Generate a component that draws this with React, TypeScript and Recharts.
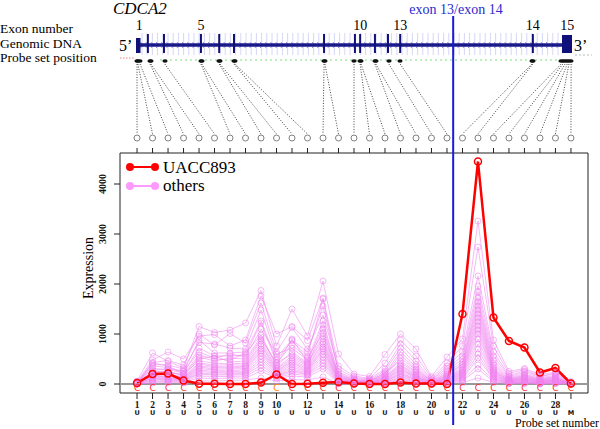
import React from 'react'
import { LineChart, Line, XAxis, YAxis, ReferenceLine, ReferenceArea } from 'recharts'

// probe sets along the x axis
const probes = [1, 2, 3, 4, 5, 6, 7, 8, 9, 10, 11, 12, 13, 14, 15, 16, 17, 18, 19, 20, 21, 22, 23, 24, 25, 26, 27, 28, 29]
const probeLabels = [1, 2, 3, 4, 5, 6, 7, 8, 9, 10, 12, 14, 16, 18, 20, 22, 24, 26, 28]
const lowerCalls = ['U', 'U', 'U', 'U', 'U', 'U', 'U', 'U', 'U', 'U', 'U', 'U', 'U', 'U', 'U', 'U', 'U', 'U', 'U', 'U', 'U', 'U', 'U', 'U', 'U', 'U', 'U', 'U', 'M']
const yTicks = [0, 1000, 2000, 3000, 4000]
const exonBoundary = 21.4

const uacc893 = [20, 200, 210, 70, 5, 5, 0, 0, 30, 190, 0, 5, 25, 40, 10, 0, 0, 30, 10, 10, 0, 1400, 4450, 1330, 860, 730, 230, 320, 10]

const others = [
  [60, 620, 450, 320, 1150, 1030, 1080, 1220, 1870, 760, 1500, 960, 2060, 600, 200, 150, 590, 1000, 700, 150, 540, 900, 3260, 880, 250, 310, 190, 240, 50],
  [40, 480, 640, 500, 960, 990, 760, 880, 1760, 1000, 1150, 870, 1720, 360, 160, 110, 420, 880, 560, 120, 420, 760, 2740, 760, 210, 290, 160, 220, 30],
  [30, 430, 470, 380, 1000, 780, 1010, 820, 1620, 640, 1130, 700, 1380, 300, 130, 100, 300, 800, 460, 90, 360, 640, 2160, 640, 170, 260, 150, 200, 20],
  [20, 390, 380, 300, 830, 800, 720, 700, 1480, 540, 880, 640, 1560, 240, 110, 80, 260, 720, 390, 80, 310, 560, 1960, 560, 150, 230, 130, 170, 10],
  [10, 360, 330, 250, 880, 620, 620, 640, 1260, 480, 860, 560, 1700, 210, 90, 70, 210, 640, 340, 60, 270, 500, 1840, 480, 130, 200, 110, 150, 10],
  [50, 310, 290, 220, 720, 560, 560, 580, 1220, 430, 780, 520, 1020, 190, 80, 60, 190, 580, 300, 50, 230, 440, 1720, 420, 110, 180, 100, 140, 0],
  [30, 280, 300, 260, 640, 520, 600, 540, 1100, 600, 720, 480, 1260, 170, 70, 60, 170, 520, 280, 60, 200, 400, 1640, 380, 100, 170, 90, 130, 20],
  [20, 420, 360, 200, 580, 500, 480, 620, 980, 380, 900, 440, 1180, 160, 60, 50, 230, 460, 250, 40, 180, 380, 1560, 340, 90, 150, 80, 120, 10],
  [0, 260, 240, 180, 540, 460, 520, 500, 940, 360, 640, 420, 960, 140, 60, 40, 150, 420, 230, 40, 160, 340, 1480, 300, 80, 140, 70, 110, 0],
  [10, 240, 260, 160, 500, 560, 440, 460, 900, 420, 600, 400, 900, 120, 50, 40, 140, 380, 200, 30, 150, 300, 1400, 280, 80, 130, 70, 100, 0],
  [40, 220, 220, 200, 460, 420, 400, 420, 860, 320, 560, 380, 1100, 110, 50, 30, 130, 360, 180, 30, 140, 280, 1320, 260, 70, 120, 60, 90, 10],
  [20, 200, 200, 140, 420, 380, 380, 380, 800, 300, 520, 360, 840, 100, 40, 30, 110, 330, 160, 20, 120, 260, 1240, 240, 60, 110, 50, 80, 0],
  [0, 180, 190, 130, 400, 350, 340, 360, 760, 280, 480, 330, 800, 90, 40, 30, 100, 300, 150, 20, 110, 240, 1160, 220, 60, 100, 50, 80, 0],
  [10, 170, 160, 120, 360, 330, 320, 340, 700, 260, 450, 300, 740, 80, 30, 20, 90, 280, 140, 20, 100, 220, 1080, 200, 50, 90, 40, 70, 0],
  [30, 150, 150, 110, 340, 300, 300, 310, 660, 240, 420, 280, 700, 70, 30, 20, 80, 250, 130, 10, 90, 200, 1000, 180, 50, 80, 40, 60, 0],
  [0, 140, 130, 100, 310, 280, 260, 290, 620, 220, 380, 260, 660, 60, 20, 20, 70, 220, 110, 10, 80, 180, 900, 160, 40, 70, 30, 50, 0],
  [10, 120, 120, 90, 280, 250, 240, 260, 560, 200, 340, 240, 600, 50, 20, 10, 60, 200, 100, 10, 70, 160, 800, 140, 40, 60, 30, 50, 0],
  [0, 110, 100, 80, 250, 230, 220, 230, 500, 180, 300, 220, 540, 40, 10, 10, 50, 180, 90, 10, 60, 140, 700, 120, 30, 50, 20, 40, 0],
  [20, 100, 90, 70, 220, 200, 200, 210, 440, 160, 270, 200, 480, 30, 10, 10, 40, 150, 80, 0, 50, 120, 600, 100, 30, 40, 20, 30, 0],
  [0, 80, 80, 60, 200, 180, 180, 190, 380, 150, 240, 190, 420, 30, 10, 0, 30, 130, 60, 0, 40, 100, 520, 90, 20, 40, 10, 30, 0],
  [10, 60, 60, 50, 160, 150, 150, 160, 320, 130, 200, 170, 360, 20, 0, 0, 20, 100, 50, 0, 30, 80, 380, 70, 20, 30, 10, 20, 0],
  [0, 40, 50, 30, 120, 110, 120, 120, 260, 110, 160, 140, 300, 10, 0, 0, 10, 80, 40, 0, 20, 60, 300, 50, 10, 20, 10, 10, 0],
  [0, 20, 30, 20, 60, 60, 70, 80, 120, 60, 90, 80, 140, 10, 0, 0, 10, 40, 20, 0, 10, 30, 120, 30, 10, 10, 0, 10, 0],
]

// gene structure, relative position along the gene (0 = exon 1, 100 = end of exon 15)
const exonLines = [2.5, 6.2, 14.7, 18.9, 22.3, 43.0, 50.1, 51.3, 54.7, 57.7, 60.5, 91.0]
const exonLabels = ['1', '5', '10', '13', '14', '15']
const exonLabelPos = [0.5, 14.7, 51.3, 60.5, 91.0, 98.9]
const probeGenePos = [0, 0.2, 0.7, 3.0, 3.2, 6.4, 14.7, 14.9, 18.9, 19.1, 22.3, 22.5, 43.0, 43.2, 49.9, 51.3, 51.5, 54.7, 54.9, 57.9, 60.5, 90.8, 91.0, 97.5, 97.9, 98.4, 98.9, 99.3, 99.8]

const geneX = (g: number) => 137 + g * 4.35

const RED = '#ff0000'
const PINK = '#ee82ee'
const SERIF = '"Liberation Serif", "Times New Roman", serif'

const chartData = probes.map((p, i) => {
  const row: Record<string, number> = { probe: p, uacc: uacc893[i] }
  others.forEach((s, j) => {
    row['o' + j] = s[i]
  })
  return row
})

function TopTick(props: any) {
  const { x, y, payload } = props
  const i = payload.value - 1
  const sx = geneX(probeGenePos[i])
  return (
    <g>
      <line x1={sx} y1={y - 74} x2={x} y2={y - 4} stroke="#444" strokeWidth={1} strokeDasharray="1 1.6" />
      <circle cx={x} cy={y} r={3} fill="none" stroke="#808080" strokeWidth={1} />
    </g>
  )
}

function BottomTick(props: any) {
  const { x, y, payload } = props
  const v = payload.value
  return (
    <g>
      <text x={x} y={y - 10} textAnchor="middle" fontSize={9} fill={v === 10 ? '#ff7f00' : '#ff3030'} fontFamily="DejaVu Sans">
        C
      </text>
      {probeLabels.includes(v) && (
        <text x={x} y={y + 6.5} textAnchor="middle" fontSize={9.5} fontWeight="bold" fill="#111" fontFamily={SERIF}>
          {v}
        </text>
      )}
      <text x={x} y={y + 13.5} textAnchor="middle" fontSize={6.5} fontWeight="bold" fill="#111" fontFamily="DejaVu Sans">
        {lowerCalls[v - 1]}
      </text>
    </g>
  )
}

function YTick(props: any) {
  const { x, y, payload } = props
  return (
    <text
      transform={`translate(${x - 6},${y}) rotate(-90)`}
      textAnchor="middle"
      fontSize={10}
      fontWeight="bold"
      fill="#111"
      fontFamily={SERIF}
    >
      {payload.value}
    </text>
  )
}

function GeneDiagram() {
  const chevrons: number[] = []
  for (let x = 142; x < 560; x += 5.2) chevrons.push(x)
  const markers = Array.from(new Set(probeGenePos.map((g) => Math.round(geneX(g)))))
  return (
    <svg width={600} height={429} style={{ position: 'absolute', left: 0, top: 0 }}>
      <text x={113} y={14} fontSize={17} fontStyle="italic" fontFamily={SERIF}>CDCA2</text>
      <text x={0} y={33} fontSize={13.5} fontFamily={SERIF}>Exon number</text>
      <text x={0} y={47.5} fontSize={13.5} fontFamily={SERIF}>Genomic DNA</text>
      <text x={0} y={62} fontSize={13.5} fontFamily={SERIF}>Probe set position</text>
      <text x={119} y={51} fontSize={16} fontFamily={SERIF}>5’</text>
      <text x={574} y={51} fontSize={16} fontFamily={SERIF}>3’</text>
      {exonLabels.map((t, i) => (
        <text key={t} x={geneX(exonLabelPos[i])} y={30} fontSize={14} textAnchor="middle" fontFamily={SERIF}>
          {t}
        </text>
      ))}
      {chevrons.map((x) => (
        <g key={x}>
          <line x1={x} y1={33} x2={x} y2={55} stroke="#d6d6f5" strokeWidth={1} />
          <polyline points={`${x - 1.5},42 ${x + 1},45 ${x - 1.5},48`} fill="none" stroke="#8080cc" strokeWidth={0.8} />
        </g>
      ))}
      <line x1={geneX(0)} y1={45} x2={geneX(100)} y2={45} stroke="#1a1a8a" strokeWidth={3.5} />
      <rect x={geneX(0) - 1} y={38} width={4.5} height={15} fill="#10107a" />
      <rect x={geneX(97.7)} y={35} width={10} height={18} fill="#10107a" />
      {exonLines.map((g) => (
        <line key={g} x1={geneX(g)} y1={34} x2={geneX(g)} y2={53} stroke="#10107a" strokeWidth={2} />
      ))}
      <line x1={120} y1={58} x2={134} y2={58} stroke="#f08080" strokeWidth={1} strokeDasharray="1.5 1.5" />
      <line x1={160} y1={60} x2={560} y2={60} stroke="#7fdc7f" strokeWidth={1} strokeDasharray="2 3" />
      <line x1={575} y1={55} x2={592} y2={55} stroke="#bbb" strokeWidth={1} strokeDasharray="2 2" />
      {markers.map((x) => (
        <ellipse key={x} cx={x} cy={61} rx={2.6} ry={1.8} fill="#111" />
      ))}
      <text x={456} y={14} fontSize={14} textAnchor="middle" fill="#2a2ad0" fontFamily={SERIF}>exon 13/exon 14</text>
      {/* legend */}
      <line x1={130} y1={167} x2={155} y2={167} stroke={RED} strokeWidth={2} />
      <circle cx={130} cy={167} r={4} fill={RED} />
      <circle cx={155} cy={167} r={4} fill={RED} />
      <text x={163} y={173} fontSize={17} fontFamily={SERIF}>UACC893</text>
      <line x1={130} y1={186} x2={155} y2={186} stroke="#ff99ff" strokeWidth={2} />
      <circle cx={130} cy={186} r={4} fill="#ff99ff" />
      <circle cx={155} cy={186} r={4} fill="#ff99ff" />
      <text x={163} y={191} fontSize={17} fontFamily={SERIF}>others</text>
      <text transform="translate(93,268) rotate(-90)" fontSize={14} textAnchor="middle" fontFamily={SERIF}>Expression</text>
      <text x={599} y={427} fontSize={12} textAnchor="end" fontFamily={SERIF}>Probe set number</text>
    </svg>
  )
}

export default function App() {
  return (
    <div style={{ position: 'absolute', left: 0, top: 0, width: 600, height: 429, background: '#fff' }}>
      <GeneDiagram />
      <div style={{ position: 'absolute', left: 0, top: 0 }}>
        <LineChart width={600} height={429} data={chartData} margin={{ top: 123, right: 12, bottom: 6, left: 90 }}>
          <XAxis
            dataKey="probe"
            type="number"
            domain={[-0.1, 30.1]}
            ticks={probes}
            interval={0}
            allowDataOverflow
            axisLine={false}
            tickLine={{ stroke: '#222' }}
            tickSize={6}
            tickMargin={2}
            height={30}
            tick={<BottomTick />}
          />
          <XAxis
            xAxisId="top"
            orientation="top"
            dataKey="probe"
            type="number"
            domain={[-0.1, 30.1]}
            ticks={probes}
            interval={0}
            allowDataOverflow
            axisLine={false}
            tickLine={{ stroke: '#222' }}
            tickSize={5}
            tickMargin={10}
            height={30}
            tick={<TopTick />}
          />
          <YAxis
            type="number"
            domain={[-180, 4620]}
            ticks={yTicks}
            allowDataOverflow
            width={30}
            axisLine={false}
            tickLine={{ stroke: '#222' }}
            tickSize={6}
            tickMargin={2}
            tick={<YTick />}
          />
          <ReferenceArea x1={-0.1} x2={30.1} y1={-180} y2={4620} fill="none" stroke="#222" strokeWidth={1} ifOverflow="visible" />
          <ReferenceLine y={0} stroke="#999" strokeWidth={2} />
          {others.map((_, j) => (
            <Line
              key={j}
              dataKey={'o' + j}
              type="linear"
              stroke={PINK}
              strokeOpacity={0.55}
              strokeWidth={1}
              dot={{ r: 3, fill: 'none', stroke: PINK, strokeOpacity: 0.55, strokeWidth: 1 }}
              activeDot={false}
              isAnimationActive={false}
            />
          ))}
          <Line
            dataKey="uacc"
            type="linear"
            stroke={RED}
            strokeWidth={2.5}
            dot={{ r: 3.5, fill: 'none', stroke: RED, strokeWidth: 1.5 }}
            activeDot={false}
            isAnimationActive={false}
          />
          <ReferenceLine
            segment={[
              { x: exonBoundary, y: -820 },
              { x: exonBoundary, y: 7360 },
            ]}
            stroke="#1a1ad8"
            strokeWidth={2}
            ifOverflow="visible"
          />
        </LineChart>
      </div>
    </div>
  )
}
